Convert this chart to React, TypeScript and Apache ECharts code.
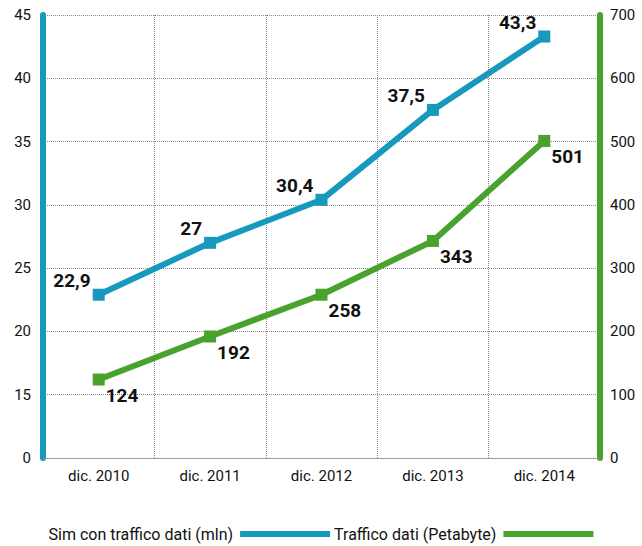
import React, { useEffect, useRef } from "react";
import * as echarts from "echarts";

const categories = ["dic. 2010", "dic. 2011", "dic. 2012", "dic. 2013", "dic. 2014"];
const simValues = [22.9, 27, 30.4, 37.5, 43.3];
const trafficValues = [124, 192, 258, 343, 501];
const seriesNames = ["Sim con traffico dati (mln)", "Traffico dati (Petabyte)"];

const BLUE = "#1798bd";
const GREEN = "#49a22d";
const FONT = "Roboto";

export default function App() {
  const ref = useRef<HTMLDivElement>(null);
  useEffect(() => {
    if (!ref.current) return;
    const chart = echarts.init(ref.current, undefined, { renderer: "svg" });
    const fmt = (v: number) => String(v).replace(".", ",");
    chart.setOption({
      animation: false,
      textStyle: { fontFamily: FONT },
      grid: { left: 43, right: 42, top: 15, bottom: 88, containLabel: false },
      legend: {
        bottom: -1,
        left: "center",
        align: "right",
        icon: "rect",
        itemWidth: 90,
        itemHeight: 6,
        itemGap: 4,
        textStyle: { fontFamily: FONT, fontSize: 16, color: "#111", padding: [0, 2, 0, 0] },
        data: seriesNames,
      },
      xAxis: {
        type: "category",
        data: categories,
        boundaryGap: true,
        axisLine: { show: true, lineStyle: { color: "#888", type: "dotted", width: 1 } },
        axisTick: { show: false },
        axisLabel: { fontFamily: FONT, fontSize: 15, color: "#111", margin: 10 },
        splitLine: { show: true, interval: 0, lineStyle: { color: "#888", type: "dotted", width: 1 } },
      },
      yAxis: [
        {
          type: "value",
          min: 10,
          max: 45,
          interval: 5,
          position: "left",
          axisLine: { show: true, lineStyle: { color: BLUE, width: 6 } },
          axisTick: { show: false },
          axisLabel: {
            fontFamily: FONT,
            fontSize: 15,
            color: "#111",
            margin: 12,
            formatter: (v: number) => (v === 10 ? "0" : String(v)),
          },
          splitLine: { show: true, lineStyle: { color: "#888", type: "dotted", width: 1 } },
        },
        {
          type: "value",
          min: 0,
          max: 700,
          interval: 100,
          position: "right",
          axisLine: { show: true, lineStyle: { color: GREEN, width: 6 } },
          axisTick: { show: false },
          axisLabel: { fontFamily: FONT, fontSize: 15, color: "#111", margin: 10 },
          splitLine: { show: false },
        },
      ],
      series: [
        {
          name: seriesNames[0],
          type: "line",
          yAxisIndex: 0,
          data: simValues,
          symbol: "rect",
          symbolSize: 12,
          lineStyle: { color: BLUE, width: 6 },
          itemStyle: { color: BLUE },
          label: {
            show: true,
            position: "left",
            distance: 2,
            offset: [0, -14],
            fontFamily: FONT,
            fontSize: 19,
            fontWeight: "bold",
            color: "#111",
            formatter: (p: any) => fmt(p.value),
          },
          z: 3,
        },
        {
          name: seriesNames[1],
          type: "line",
          yAxisIndex: 1,
          data: trafficValues,
          symbol: "rect",
          symbolSize: 12,
          lineStyle: { color: GREEN, width: 6 },
          itemStyle: { color: GREEN },
          label: {
            show: true,
            position: "right",
            distance: 1,
            offset: [0, 16],
            fontFamily: FONT,
            fontSize: 19,
            fontWeight: "bold",
            color: "#111",
          },
          z: 3,
        },
      ],
    });
    return () => chart.dispose();
  }, []);
  return (
    <div
      ref={ref}
      style={{ position: "fixed", left: 0, top: 0, width: 642, height: 546, background: "#fff" }}
    />
  );
}
